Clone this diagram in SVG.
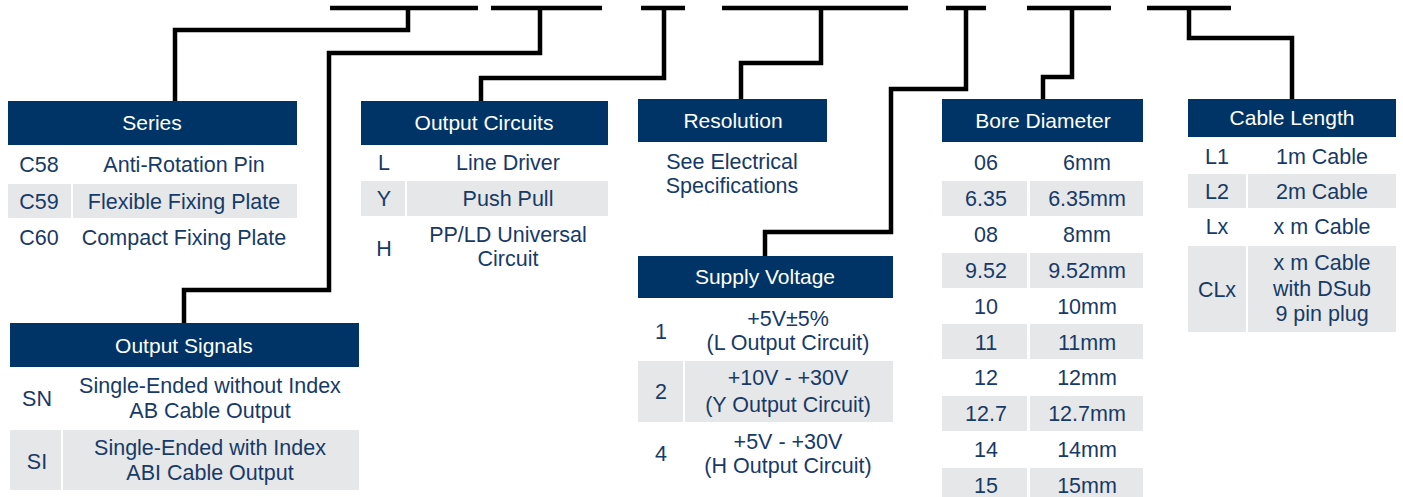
<svg xmlns="http://www.w3.org/2000/svg" width="1403" height="497" viewBox="0 0 1403 497">
<style>
.hd{fill:#013466;}
.gr{fill:#E6E7E8;}
.ht{font-family:"Liberation Sans",Arial,sans-serif;font-size:21px;fill:#FFFFFF;text-anchor:middle;}
.t{font-family:"Liberation Sans",Arial,sans-serif;font-size:21.5px;fill:#173A66;text-anchor:middle;}
.ln{fill:none;stroke:#000000;stroke-width:4.5;stroke-linejoin:miter;stroke-linecap:butt;}
</style>
<rect width="1403" height="497" fill="#FFFFFF"/>
<g id="connectors">
<path class="ln" d="M330 8H478M491 8H602M641 8H685M722 8H908M946 8H986M1027 8H1111M1147 8H1231"/>
<path class="ln" d="M408 8V30H175V101"/>
<path class="ln" d="M540 8V53H329V290H184V323"/>
<path class="ln" d="M664 8V78H481V101"/>
<path class="ln" d="M821 8V63H741V99"/>
<path class="ln" d="M966 8V89H891V232H765V256"/>
<path class="ln" d="M1072 8V77H1043V99"/>
<path class="ln" d="M1189 8V38H1292V99"/>
</g>
<g id="series">
<rect class="hd" x="8" y="101" width="289" height="44"/>
<text class="ht" x="152" y="130">Series</text>
<rect class="gr" x="8" y="184" width="63" height="34"/>
<rect class="gr" x="73" y="184" width="224" height="34"/>
<text class="t" x="39" y="172">C58</text><text class="t" x="184" y="172">Anti-Rotation Pin</text>
<text class="t" x="39" y="209">C59</text><text class="t" x="184" y="209">Flexible Fixing Plate</text>
<text class="t" x="39" y="245">C60</text><text class="t" x="184" y="245">Compact Fixing Plate</text>
</g>
<g id="output-circuits">
<rect class="hd" x="361" y="101" width="247" height="44"/>
<text class="ht" x="484" y="130">Output Circuits</text>
<rect class="gr" x="361" y="181" width="44" height="35"/>
<rect class="gr" x="407" y="181" width="201" height="35"/>
<text class="t" x="384" y="170">L</text><text class="t" x="508" y="170">Line Driver</text>
<text class="t" x="384" y="206">Y</text><text class="t" x="508" y="206">Push Pull</text>
<text class="t" x="384" y="256">H</text><text class="t" x="508" y="242">PP/LD Universal</text><text class="t" x="508" y="266">Circuit</text>
</g>
<g id="resolution">
<rect class="hd" x="638" y="99" width="189" height="43"/>
<text class="ht" x="733" y="128">Resolution</text>
<text class="t" x="732" y="169">See Electrical</text>
<text class="t" x="732" y="193">Specifications</text>
</g>
<g id="supply-voltage">
<rect class="hd" x="638" y="256" width="255" height="42"/>
<text class="ht" x="765" y="284">Supply Voltage</text>
<rect class="gr" x="638" y="361" width="45" height="61"/>
<rect class="gr" x="685" y="361" width="208" height="61"/>
<text class="t" x="661" y="339">1</text><text class="t" x="788" y="326">+5V±5%</text><text class="t" x="788" y="350">(L Output Circuit)</text>
<text class="t" x="661" y="399">2</text><text class="t" x="788" y="385">+10V - +30V</text><text class="t" x="788" y="412">(Y Output Circuit)</text>
<text class="t" x="661" y="461">4</text><text class="t" x="788" y="449">+5V - +30V</text><text class="t" x="788" y="473">(H Output Circuit)</text>
</g>
<g id="bore-diameter">
<rect class="hd" x="942" y="99" width="201" height="43"/>
<text class="ht" x="1043" y="128">Bore Diameter</text>
<rect class="gr" x="942" y="181" width="85" height="35"/><rect class="gr" x="1030" y="181" width="113" height="35"/>
<rect class="gr" x="942" y="253" width="85" height="35"/><rect class="gr" x="1030" y="253" width="113" height="35"/>
<rect class="gr" x="942" y="324" width="85" height="35"/><rect class="gr" x="1030" y="324" width="113" height="35"/>
<rect class="gr" x="942" y="396" width="85" height="35"/><rect class="gr" x="1030" y="396" width="113" height="35"/>
<rect class="gr" x="942" y="468" width="85" height="35"/><rect class="gr" x="1030" y="468" width="113" height="35"/>
<text class="t" x="986" y="170">06</text><text class="t" x="1087" y="170">6mm</text>
<text class="t" x="986" y="206">6.35</text><text class="t" x="1087" y="206">6.35mm</text>
<text class="t" x="986" y="242">08</text><text class="t" x="1087" y="242">8mm</text>
<text class="t" x="986" y="278">9.52</text><text class="t" x="1087" y="278">9.52mm</text>
<text class="t" x="986" y="314">10</text><text class="t" x="1087" y="314">10mm</text>
<text class="t" x="986" y="350">11</text><text class="t" x="1087" y="350">11mm</text>
<text class="t" x="986" y="385">12</text><text class="t" x="1087" y="385">12mm</text>
<text class="t" x="986" y="421">12.7</text><text class="t" x="1087" y="421">12.7mm</text>
<text class="t" x="986" y="457">14</text><text class="t" x="1087" y="457">14mm</text>
<text class="t" x="986" y="493">15</text><text class="t" x="1087" y="493">15mm</text>
</g>
<g id="cable-length">
<rect class="hd" x="1188" y="99" width="208" height="38"/>
<text class="ht" x="1292" y="125">Cable Length</text>
<rect class="gr" x="1188" y="174" width="58" height="34"/><rect class="gr" x="1248" y="174" width="148" height="34"/>
<rect class="gr" x="1188" y="246" width="58" height="86"/><rect class="gr" x="1248" y="246" width="148" height="86"/>
<text class="t" x="1217" y="164">L1</text><text class="t" x="1322" y="164">1m Cable</text>
<text class="t" x="1217" y="199">L2</text><text class="t" x="1322" y="199">2m Cable</text>
<text class="t" x="1217" y="234">Lx</text><text class="t" x="1322" y="234">x m Cable</text>
<text class="t" x="1217" y="297">CLx</text><text class="t" x="1322" y="270">x m Cable</text><text class="t" x="1322" y="296">with DSub</text><text class="t" x="1322" y="321">9 pin plug</text>
</g>
<g id="output-signals">
<rect class="hd" x="10" y="323" width="349" height="44"/>
<text class="ht" x="184" y="353">Output Signals</text>
<rect class="gr" x="10" y="430" width="51" height="60"/>
<rect class="gr" x="63" y="430" width="296" height="60"/>
<text class="t" x="37" y="406">SN</text><text class="t" x="210" y="393">Single-Ended without Index</text><text class="t" x="210" y="418">AB Cable Output</text>
<text class="t" x="37" y="469">SI</text><text class="t" x="210" y="455">Single-Ended with Index</text><text class="t" x="210" y="480">ABI Cable Output</text>
</g>
</svg>
